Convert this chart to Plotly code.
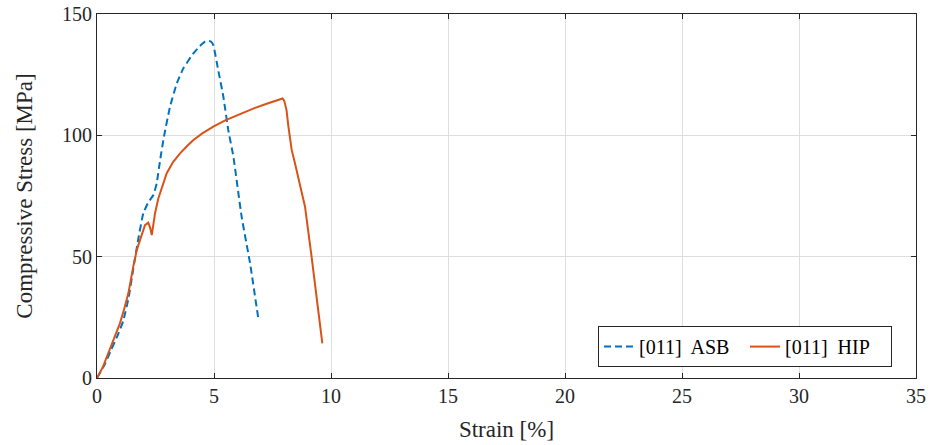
import plotly.graph_objects as go

# [011] ASB (as-built) curve
asb_strain = [0.0, 0.3, 0.6, 0.9, 1.12, 1.35, 1.55, 1.77, 1.98, 2.2, 2.41, 2.55, 2.7, 2.86, 3.12, 3.41, 3.69, 4.12, 4.4, 4.62, 4.76, 4.88, 4.97, 5.18, 5.4, 5.61, 5.83, 6.18, 6.54, 6.89]
asb_stress = [0.0, 5.0, 11.5, 18.0, 23.5, 33.0, 45.0, 57.6, 67.9, 72.5, 75.4, 80.2, 90.0, 99.4, 111.8, 121.4, 127.6, 133.8, 136.8, 138.6, 139.0, 138.6, 137.2, 126.9, 115.9, 102.2, 91.2, 66.5, 47.3, 24.7]

# [011] HIP curve
hip_strain = [0.0, 0.25, 0.48, 0.75, 0.98, 1.15, 1.34, 1.55, 1.7, 1.84, 2.05, 2.19, 2.27, 2.34, 2.41, 2.48, 2.62, 2.8, 2.98, 3.25, 3.55, 3.85, 4.12, 4.5, 4.97, 5.5, 6.11, 6.7, 7.25, 7.6, 7.93, 8.0, 8.1, 8.18, 8.32, 8.46, 8.68, 8.89, 9.17, 9.4, 9.63]
hip_stress = [0.0, 4.5, 10.2, 16.5, 22.5, 28.0, 34.9, 45.9, 52.7, 56.9, 63.0, 64.0, 62.0, 58.9, 63.0, 67.9, 74.0, 79.5, 84.4, 89.0, 92.6, 95.6, 98.1, 100.8, 103.6, 106.3, 108.9, 111.1, 113.0, 114.2, 115.2, 114.3, 110.4, 103.6, 94.0, 88.5, 78.8, 70.6, 50.0, 32.5, 14.3]

x_ticks = [0, 5, 10, 15, 20, 25, 30, 35]
y_ticks = [0, 50, 100, 150]

FONT = "Liberation Serif"
AX = "#262626"
GRID = "#dedede"

fig = go.Figure()
fig.add_trace(go.Scatter(x=asb_strain, y=asb_stress, mode="lines", name="[011]  ASB",
                         line=dict(color="#0072BD", width=2, dash="7px,4px", shape="spline", smoothing=0.4)))
fig.add_trace(go.Scatter(x=hip_strain, y=hip_stress, mode="lines", name="[011]  HIP",
                         line=dict(color="#D95319", width=2)))

fig.update_layout(
    width=931, height=445,
    margin=dict(l=97, r=15, t=14, b=67, autoexpand=False),
    paper_bgcolor="white", plot_bgcolor="white",
    font=dict(family=FONT, size=20, color=AX),
    showlegend=True,
    legend=dict(orientation="h", x=0.9707, xanchor="right", y=0.03, yanchor="bottom",
                bordercolor=AX, borderwidth=1, bgcolor="white",
                font=dict(family=FONT, size=20, color="black"),
                entrywidth=101, entrywidthmode="pixels", tracegroupgap=0),
)
fig.update_xaxes(range=[0, 35], tickvals=x_ticks, ticks="inside", ticklen=5, tickcolor=AX,
                 showline=True, linecolor=AX, linewidth=1, mirror="ticks",
                 showgrid=True, gridcolor=GRID, gridwidth=1, zeroline=False, automargin=False,
                 title=dict(text="Strain [%]", standoff=14, font=dict(size=23)),
                 tickfont=dict(size=20))
fig.update_yaxes(range=[0, 150], tickvals=y_ticks, ticks="inside", ticklen=5, tickcolor=AX,
                 showline=True, linecolor=AX, linewidth=1, mirror="ticks",
                 showgrid=True, gridcolor=GRID, gridwidth=1, zeroline=False, automargin=False,
                 title=dict(text="Compressive Stress [MPa]", standoff=22, font=dict(size=23)),
                 tickfont=dict(size=20))

fig.write_html("out.html")
